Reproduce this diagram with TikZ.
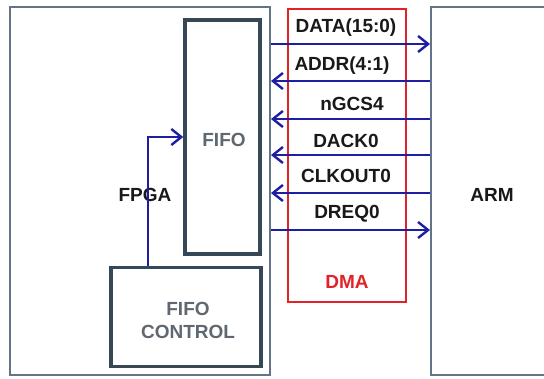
\documentclass[tikz,border=0pt]{standalone}
\usepackage{fontspec}
\setmainfont{Liberation Sans}
\usetikzlibrary{arrows.meta}
\definecolor{outerc}{RGB}{100,116,136}
\definecolor{innerc}{RGB}{52,72,88}
\definecolor{sigc}{RGB}{30,30,165}
\definecolor{grayt}{RGB}{95,104,112}
\definecolor{redc}{RGB}{225,35,40}
\definecolor{textc}{RGB}{25,25,25}
\tikzset{
  outerbox/.style={draw=outerc, line width=2pt, inner sep=0pt},
  innerbox/.style={draw=innerc, line width=3.5pt, fill=white, inner sep=0pt, text=grayt, align=center},
  dmabox/.style={draw=redc, line width=2.5pt, inner sep=0pt},
  lab/.style={text=textc, inner sep=0pt},
  sig/.style={draw=sigc, line width=2.4pt, -{Straight Barb[length=10pt,width=16pt,line width=2.4pt]}},
}
\begin{document}
\begin{tikzpicture}[x=1pt,y=-1pt,font=\fontsize{19}{23}\selectfont\bfseries]
\useasboundingbox (0,0) rectangle (544,378);
\fill[white] (0,0) rectangle (544,378);
% outer boxes
\node[outerbox, minimum width=260pt, minimum height=368pt] (fpga) at (140,191) {};
\node[outerbox, minimum width=140pt, minimum height=368pt] (arm) at (501,191) {};
\node[lab] (fpgalab) at (145,195) {FPGA};
\node[lab] (armlab) at (492,195) {ARM};
% inner boxes
\node[innerbox, minimum width=75pt, minimum height=234pt] (fifo) at (222.5,137) {};
\node[lab, text=grayt] (fifolab) at (224,140) {FIFO};
\node[innerbox, minimum width=150pt, minimum height=99pt] (fc) at (186,317) {};
\node[lab, text=grayt, align=center] (fclab) at (188,320) {FIFO\\CONTROL};
% DMA
\node[dmabox, minimum width=118pt, minimum height=293pt] (dma) at (347,155.5) {};
\node[lab, text=redc] (dmalab) at (347,282) {DMA};
% signal labels
\node[lab] (l1) at (346,28) {DATA(15:0)};
\node[lab] (l2) at (342,66) {ADDR(4:1)};
\node[lab] (l3) at (352,104) {nGCS4};
\node[lab] (l4) at (346,141) {DACK0};
\node[lab] (l5) at (346,176) {CLKOUT0};
\node[lab] (l6) at (347,214) {DREQ0};
% signal rows
\coordinate (y1) at (0,44);
\coordinate (y2) at (0,81);
\coordinate (y3) at (0,119);
\coordinate (y4) at (0,155);
\coordinate (y5) at (0,193);
\coordinate (y6) at (0,230);
\draw[sig] (fpga.east |- y1) -- (arm.west |- y1);
\draw[sig] (arm.west |- y2) -- (fpga.east |- y2);
\draw[sig] (arm.west |- y3) -- (fpga.east |- y3);
\draw[sig] (arm.west |- y4) -- (fpga.east |- y4);
\draw[sig] (arm.west |- y5) -- (fpga.east |- y5);
\draw[sig] (fpga.east |- y6) -- (arm.west |- y6);
% control to fifo
\coordinate (cx) at (148,0);
\draw[sig] (fc.north -| cx) |- (fifo.west);
\end{tikzpicture}
\end{document}
